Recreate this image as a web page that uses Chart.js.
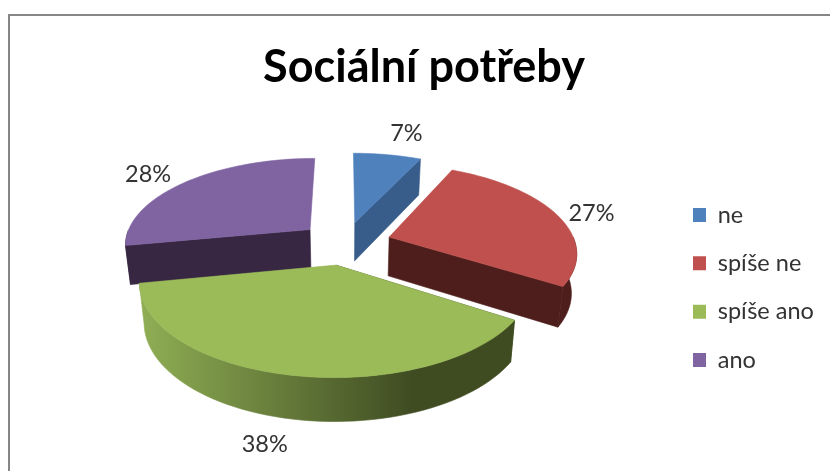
<!DOCTYPE html>
<html>
<head>
<meta charset="utf-8">
<title>Sociální potřeby</title>
<script src="https://cdn.jsdelivr.net/npm/chart.js@4"></script>
<style>
    html, body { margin: 0; padding: 0; background: #fff; }
    canvas { display: block; }
</style>
</head>
<body>
<canvas id="chart" width="830" height="471"></canvas>
<script>
const titleText = 'Sociální potřeby';
const categories = ['ne', 'spíše ne', 'spíše ano', 'ano'];
const percentages = [7, 27, 38, 28];

const topColors = ['#4f81bd', '#c0504d', '#9bbb59', '#8064a2'];
const wallColors = ['#385d8a', '#4d1e1b', null, '#372742'];
// order the slices are painted in, back to front
const paintOrder = [3, 0, 1, 2];
// moves the value labels away from the outer edge of the slice, in pixels
const labelNudges = [[19, -21], [35, -1], [-26, 69], [-38, -7]];

// Excel style 3D pie: the ground plane is seen in perspective
const view = { cx: 345, cy: 243, rx: 186, ry: 86.5, persp: 0.16, explode: 0.25 };

function project(theta, mid, r) {
    const u = Math.sin(theta) * r + Math.sin(mid) * view.explode;
    const v = -Math.cos(theta) * r - Math.cos(mid) * view.explode;
    const s = 1 / (1 - view.persp * v);
    return { x: view.cx + view.rx * u * s, y: view.cy + view.ry * v * s, s: s };
}

// same point on the underside of the slice
function lower(p) {
    return { x: view.cx + (p.x - view.cx) * 0.977, y: p.y + 19 + 20 * p.s };
}

function fillPath(ctx, pts, color) {
    ctx.beginPath();
    pts.forEach((p, i) => i ? ctx.lineTo(p.x, p.y) : ctx.moveTo(p.x, p.y));
    ctx.closePath();
    ctx.fillStyle = color;
    ctx.fill();
    // hides the hairline seam between neighbouring walls
    ctx.strokeStyle = color;
    ctx.lineWidth = 0.6;
    ctx.stroke();
}

const pie3d = {
    id: 'pie3d',
    afterLayout(chart) {
        chart.legend.left = 668.2;
        chart.legend.top += 52;
        chart.legend.bottom += 52;
    },
    beforeDraw(chart) {
        const ctx = chart.ctx;
        ctx.save();
        ctx.fillStyle = '#fff';
        ctx.fillRect(0, 0, chart.width, chart.height);
        ctx.strokeStyle = '#868686';
        ctx.lineWidth = 2;
        ctx.beginPath();
        ctx.moveTo(9, chart.height);
        ctx.lineTo(9, 15);
        ctx.lineTo(chart.width, 15);
        ctx.stroke();
        ctx.restore();
    },
    beforeDatasetsDraw(chart) {
        const ctx = chart.ctx;
        const arcs = chart.getDatasetMeta(0).data;
        ctx.save();
        paintOrder.forEach(i => {
            const arc = arcs[i];
            const start = arc.startAngle + Math.PI / 2;
            const end = arc.endAngle + Math.PI / 2;
            const mid = (start + end) / 2;
            const apex = project(0, mid, 0);
            const angles = [];
            for (let k = 0; k <= 60; k++) {
                angles.push(start + (end - start) * k / 60);
            }
            const rim = angles.map(a => project(a, mid, 1));

            let wall = wallColors[i];
            if (!wall) {
                wall = ctx.createLinearGradient(141, 0, 517, 0);
                wall.addColorStop(0, '#8fae54');
                wall.addColorStop(0.72, '#3f4c22');
                wall.addColorStop(1, '#3f4c22');
            }
            // only the walls that face the viewer
            if (start > Math.PI / 2) {
                fillPath(ctx, [apex, lower(apex), lower(rim[0]), rim[0]], wall);
            }
            if (end < Math.PI) {
                fillPath(ctx, [apex, lower(apex), lower(rim[60]), rim[60]], wall);
            }
            const front = rim.filter((p, k) => angles[k] >= Math.PI / 2 && angles[k] <= Math.PI * 1.5);
            if (front.length > 1) {
                fillPath(ctx, [...front, ...front.map(lower).reverse()], wall);
            }
            fillPath(ctx, [apex, ...rim], arc.options.backgroundColor);
        });

        ctx.fillStyle = '#333';
        ctx.font = '23.5px Lato';
        ctx.textAlign = 'center';
        ctx.textBaseline = 'middle';
        arcs.forEach((arc, i) => {
            const mid = (arc.startAngle + arc.endAngle) / 2 + Math.PI / 2;
            const p = project(mid, mid, 1);
            ctx.fillText(percentages[i] + '%', p.x + labelNudges[i][0], p.y + labelNudges[i][1]);
        });
        ctx.restore();
        return false;
    }
};

new Chart(document.getElementById('chart'), {
    type: 'pie',
    data: {
        labels: categories,
        datasets: [{
            data: percentages,
            backgroundColor: topColors,
            borderWidth: 0
        }]
    },
    options: {
        responsive: false,
        animation: false,
        layout: { padding: { left: 18 } },
        plugins: {
            title: {
                display: true,
                text: titleText,
                color: '#000',
                font: { family: 'Lato', size: 45, weight: 'bold' },
                padding: { top: 40, bottom: 10 }
            },
            legend: {
                position: 'right',
                labels: {
                    color: '#333',
                    font: { family: 'Lato', size: 23.5 },
                    boxWidth: 13,
                    boxHeight: 14,
                    padding: 24.8
                }
            },
            tooltip: { enabled: false }
        }
    },
    plugins: [pie3d]
});
</script>
</body>
</html>
